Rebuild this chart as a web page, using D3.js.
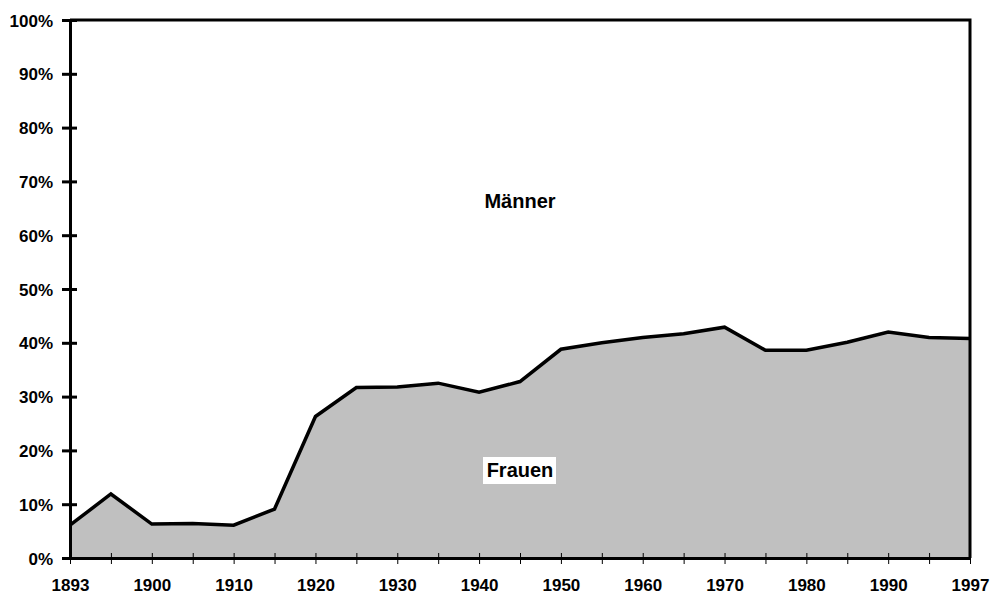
<!DOCTYPE html>
<html>
<head>
<meta charset="utf-8">
<script src="https://cdn.jsdelivr.net/npm/d3@7"></script>
<style>
  body { margin: 0; background: #fff; }
  svg text { font-family: "Liberation Sans", Arial, sans-serif; font-weight: bold; fill: #000; }
</style>
</head>
<body>
<svg id="chart"></svg>
<script>
// categories (years) and share of women in %
const years = ['1893','1895','1900','1905','1910','1915','1920','1925','1930','1935','1940','1945',
               '1950','1955','1960','1965','1970','1975','1980','1985','1990','1995','1997'];
const frauen = [6.1, 11.9, 6.3, 6.4, 6.1, 9.1, 26.3, 31.7, 31.8, 32.5, 30.8, 32.8,
                38.8, 40.0, 41.0, 41.7, 42.9, 38.6, 38.6, 40.1, 42.0, 41.0, 40.8];
const yearLabels = ['1893','1900','1910','1920','1930','1940','1950','1960','1970','1980','1990','1997'];
const yTicks = [0, 10, 20, 30, 40, 50, 60, 70, 80, 90, 100];

const width = 990, height = 594;
const margin = {top: 20, right: 20, bottom: 36, left: 70};

const svg = d3.select('#chart').attr('width', width).attr('height', height);

const x = d3.scalePoint()
    .domain(years)
    .range([margin.left, width - margin.right]);

const y = d3.scaleLinear()
    .domain([0, 100])
    .range([height - margin.bottom, margin.top]);

const data = years.map((d, i) => ({year: d, value: frauen[i]}));

// area under the women's share
svg.append('path')
    .datum(data)
    .attr('fill', '#c0c0c0')
    .attr('d', d3.area().x(d => x(d.year)).y0(y(0)).y1(d => y(d.value)));

svg.append('path')
    .datum(data)
    .attr('fill', 'none')
    .attr('stroke', '#000')
    .attr('stroke-width', 3.5)
    .attr('stroke-linejoin', 'miter')
    .attr('d', d3.line().x(d => x(d.year)).y(d => y(d.value)));

// frame: top and right
svg.append('path')
    .attr('fill', 'none')
    .attr('stroke', '#000')
    .attr('stroke-width', 3)
    .attr('d', `M${x.range()[0]},${y(100)}H${x.range()[1]}V${y(0)}`);

// x axis
const xAxis = svg.append('g')
    .attr('transform', `translate(0,${y(0)})`)
    .call(d3.axisBottom(x).tickSize(0).tickFormat(d => yearLabels.includes(d) ? d : ''));
xAxis.select('.domain').attr('stroke-width', 3);
xAxis.selectAll('.tick').append('line')
    .attr('y1', -5).attr('y2', 6)
    .attr('stroke', '#000').attr('stroke-width', 1);
xAxis.selectAll('text')
    .attr('y', 33).attr('dy', null)
    .style('font-size', '17px');

// y axis
const yAxis = svg.append('g')
    .attr('transform', `translate(${margin.left},0)`)
    .call(d3.axisLeft(y).tickValues(yTicks).tickSize(8).tickPadding(9).tickFormat(d => d + '%'));
yAxis.select('.domain').attr('stroke-width', 3);
yAxis.selectAll('.tick line')
    .attr('x1', 7).attr('x2', -8)
    .attr('stroke-width', 3);
yAxis.selectAll('text')
    .attr('dy', '0.36em')
    .style('font-size', '17px');

// labels
svg.append('text')
    .attr('x', 520).attr('y', 208)
    .attr('text-anchor', 'middle')
    .style('font-size', '20px')
    .text('Männer');

svg.append('rect')
    .attr('x', 483).attr('y', 457).attr('width', 73).attr('height', 27)
    .attr('fill', '#fff');
svg.append('text')
    .attr('x', 520).attr('y', 477)
    .attr('text-anchor', 'middle')
    .style('font-size', '20px')
    .text('Frauen');
</script>
</body>
</html>
